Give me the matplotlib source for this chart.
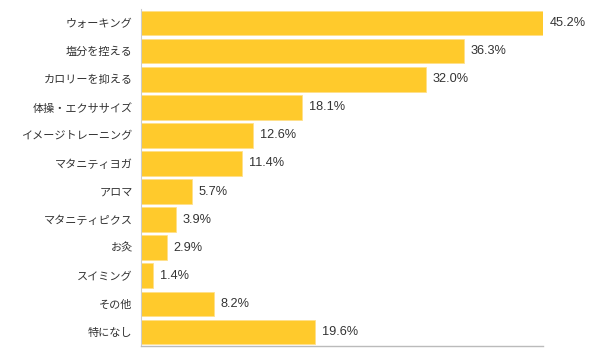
import matplotlib.pyplot as plt

plt.rcParams['font.family'] = ['Noto Sans CJK JP', 'DejaVu Sans']

categories = ['ウォーキング', '塩分を控える', 'カロリーを抑える', '体操・エクササイズ',
              'イメージトレーニング', 'マタニティヨガ', 'アロマ', 'マタニティピクス',
              'お灸', 'スイミング', 'その他', '特になし']
values = [45.2, 36.3, 32.0, 18.1, 12.6, 11.4, 5.7, 3.9, 2.9, 1.4, 8.2, 19.6]

fig = plt.figure(figsize=(6.01, 3.57), dpi=100)
ax = fig.add_axes([141 / 601, 1 - 346 / 357, 402 / 601, 337 / 357])

pos = range(len(categories))
ax.barh(pos, values, height=0.88, color='#FFCA2C', edgecolor='#FFE08A', linewidth=0.6)

# percentage labels to the right of each bar
for i, v in enumerate(values):
    ax.text(v + 0.75, i, f'{v:.1f}%', va='center', ha='left', fontsize=9.2,
            color='#333333', family='Liberation Sans')

ax.set_yticks(list(pos))
ax.set_yticklabels(categories, fontsize=8, color='#333333')
ax.tick_params(axis='y', length=0, pad=6)
ax.set_xticks([])
ax.set_xlim(0, 45.2)
ax.set_ylim(len(categories) - 0.5, -0.5)

for s in ['top', 'right']:
    ax.spines[s].set_visible(False)
ax.spines['left'].set_color('#cccccc')
ax.spines['bottom'].set_color('#bbbbbb')
ax.spines['left'].set_linewidth(0.8)
ax.spines['bottom'].set_linewidth(1.0)

fig.savefig('out.png', dpi=100)
